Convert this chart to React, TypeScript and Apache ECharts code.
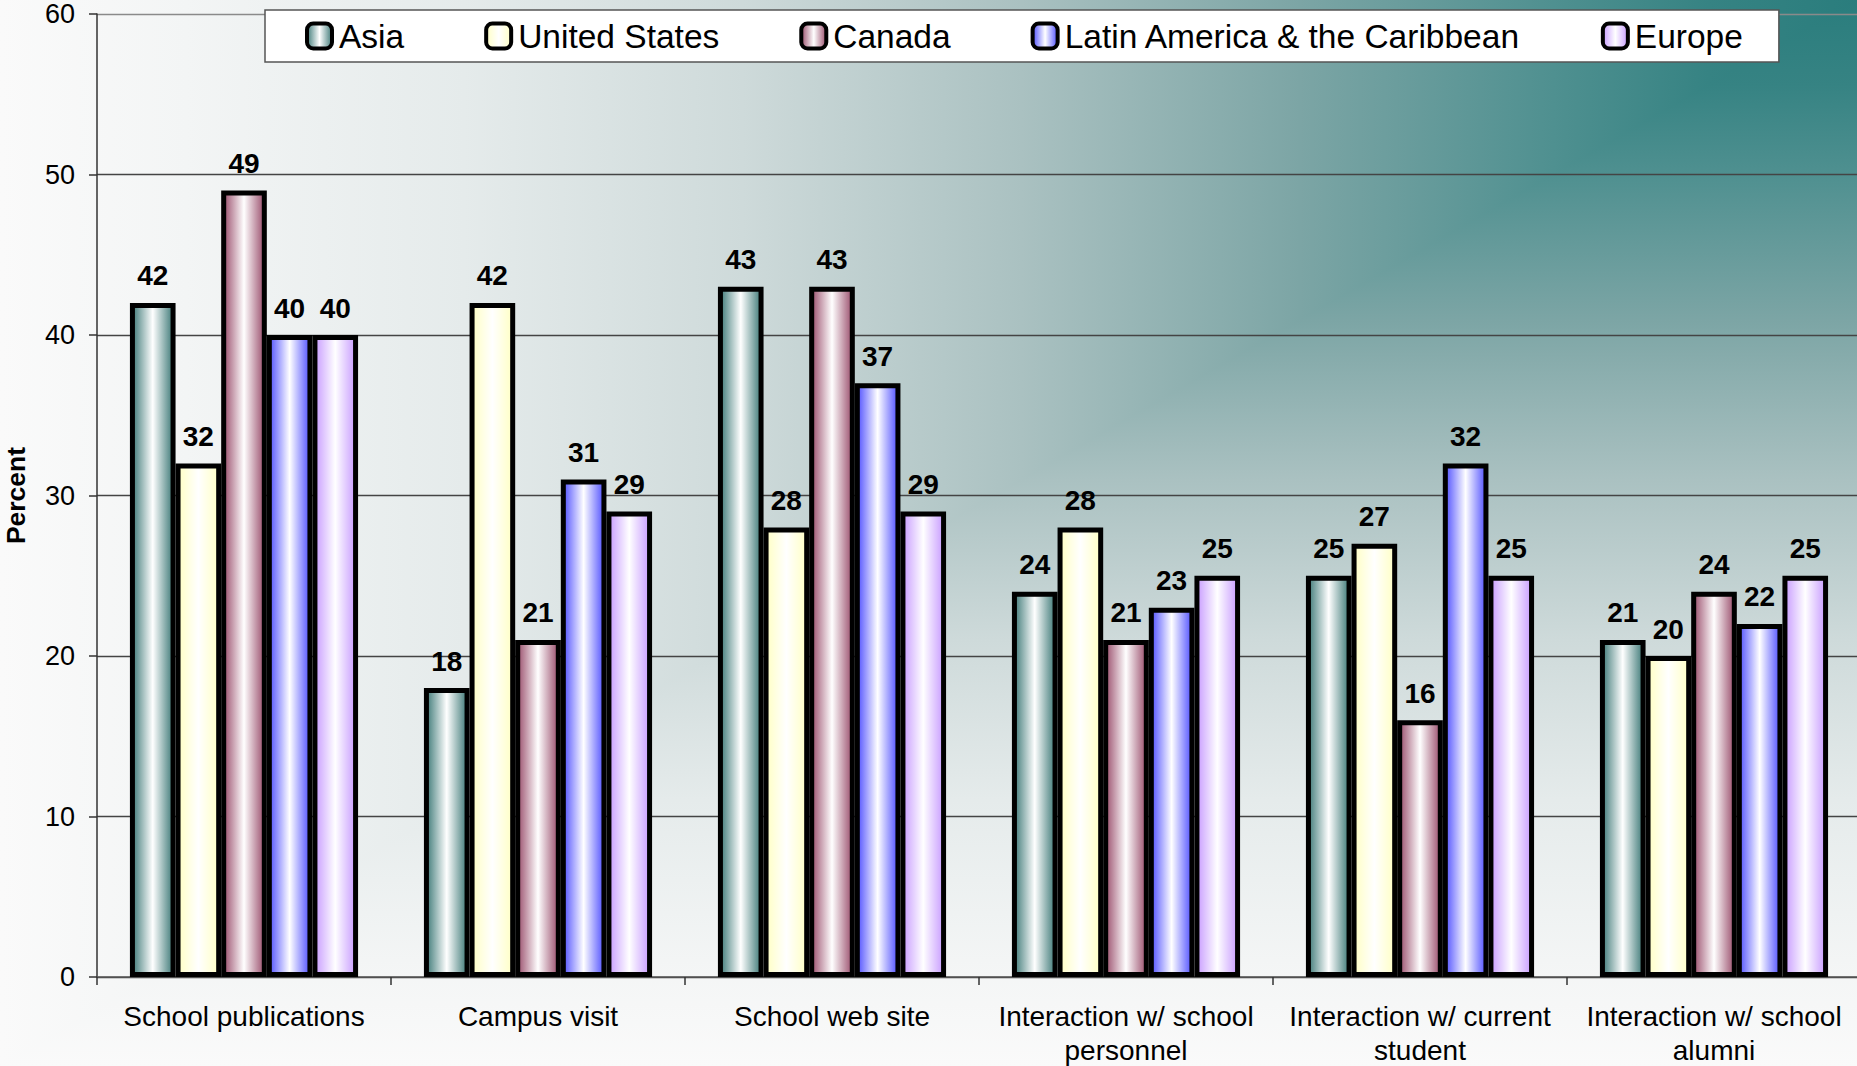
import React, { useEffect, useRef } from "react";
import * as echarts from "echarts";

// Information sources used, by region of origin (percent)
const categories = [
  "School publications",
  "Campus visit",
  "School web site",
  "Interaction w/ school\npersonnel",
  "Interaction w/ current\nstudent",
  "Interaction w/ school\nalumni",
];

const seriesNames = [
  "Asia",
  "United States",
  "Canada",
  "Latin America & the Caribbean",
  "Europe",
];

const asia = [42, 18, 43, 24, 25, 21];
const unitedStates = [32, 42, 28, 28, 27, 20];
const canada = [49, 21, 43, 21, 16, 24];
const latinAmerica = [40, 31, 37, 23, 32, 22];
const europe = [40, 29, 29, 25, 25, 25];

const yTicks = { min: 0, max: 60, interval: 10 };

const edgeColors = ["#3f7a78", "#ffffc4", "#9a4e6c", "#5050ff", "#c89cff"];

const FONT = '"Liberation Sans", Arial, Helvetica, sans-serif';

// Corner gradient: dark teal at the top-right, fading to near-white.
const fadeStops = [
  "#2a7d7d 0%",
  "#368383 8%",
  "#519191 17%",
  "#7ca5a5 30%",
  "#aac1c1 45%",
  "#cedada 60%",
  "#e5ebeb 75%",
  "#f3f5f5 90%",
  "#fafafa 100%",
].join(", ");

function barFill(color: string) {
  return {
    type: "linear",
    x: 0,
    y: 0,
    x2: 1,
    y2: 0,
    colorStops: [
      { offset: 0, color },
      { offset: 0.5, color: "#ffffff" },
      { offset: 1, color },
    ],
  };
}

export default function App() {
  const ref = useRef<HTMLDivElement>(null);

  useEffect(() => {
    if (!ref.current) return;
    const chart = echarts.init(ref.current, undefined, { renderer: "svg" });
    const values = [asia, unitedStates, canada, latinAmerica, europe];

    const gridColors = ["#444", "#444", "#444", "#444", "#444", "#444", "#8a8a8a"];

    chart.setOption({
      animation: false,
      backgroundColor: "transparent",
      grid: {
        left: 97,
        top: 14,
        bottom: 89,
        width: 1764,
        containLabel: false,
        outerBoundsMode: "none",
      },
      legend: {
        left: 265,
        top: 10,
        padding: [9, 36, 9, 40],
        itemGap: 80,
        itemWidth: 25,
        itemHeight: 25,
        backgroundColor: "#ffffff",
        borderColor: "#555",
        borderWidth: 1.5,
        borderRadius: 0,
        icon: "roundRect",
        itemStyle: { borderColor: "#000", borderWidth: 4 },
        textStyle: {
          fontFamily: FONT,
          fontSize: 33.5,
          lineHeight: 25,
          color: "#000",
          padding: [0, 0, 0, 2],
        },
        data: seriesNames,
      },
      xAxis: {
        type: "category",
        data: categories,
        boundaryGap: true,
        axisLine: { lineStyle: { color: "#555", width: 1.5 } },
        axisTick: { show: true, length: 8, lineStyle: { color: "#333", width: 1.5 } },
        axisLabel: {
          interval: 0,
          margin: 22,
          fontFamily: FONT,
          fontSize: 28,
          lineHeight: 34,
          color: "#000",
        },
        splitLine: { show: false },
      },
      yAxis: {
        type: "value",
        min: yTicks.min,
        max: yTicks.max,
        interval: yTicks.interval,
        name: "Percent",
        nameLocation: "middle",
        nameGap: 68,
        nameRotate: 90,
        nameTextStyle: {
          fontFamily: FONT,
          fontSize: 26.5,
          lineHeight: 26,
          fontWeight: "bold",
          color: "#000",
        },
        axisLine: { show: true, lineStyle: { color: "#333", width: 1.5 } },
        axisTick: { show: true, length: 8, lineStyle: { color: "#333", width: 1.5 } },
        axisLabel: {
          margin: 22,
          fontFamily: FONT,
          fontSize: 27,
          color: "#000",
        },
        splitLine: { show: true, lineStyle: { color: gridColors, width: 1.4 } },
      },
      series: seriesNames.map((name, i) => ({
        name,
        type: "bar",
        data: values[i],
        barGap: "0%",
        barCategoryGap: "22.4%",
        itemStyle: {
          color: barFill(edgeColors[i]),
          borderColor: "#000",
          borderWidth: 5,
        },
        label: {
          show: true,
          position: "top",
          distance: 13,
          fontFamily: FONT,
          fontSize: 28,
          fontWeight: "bold",
          color: "#000",
        },
      })),
    });

    return () => chart.dispose();
  }, []);

  return (
    <div
      ref={ref}
      style={{
        position: "absolute",
        left: 0,
        top: 0,
        width: 1857,
        height: 1066,
        backgroundImage: `linear-gradient(to left, ${fadeStops}), linear-gradient(to bottom, ${fadeStops})`,
        backgroundBlendMode: "lighten",
      }}
    />
  );
}
